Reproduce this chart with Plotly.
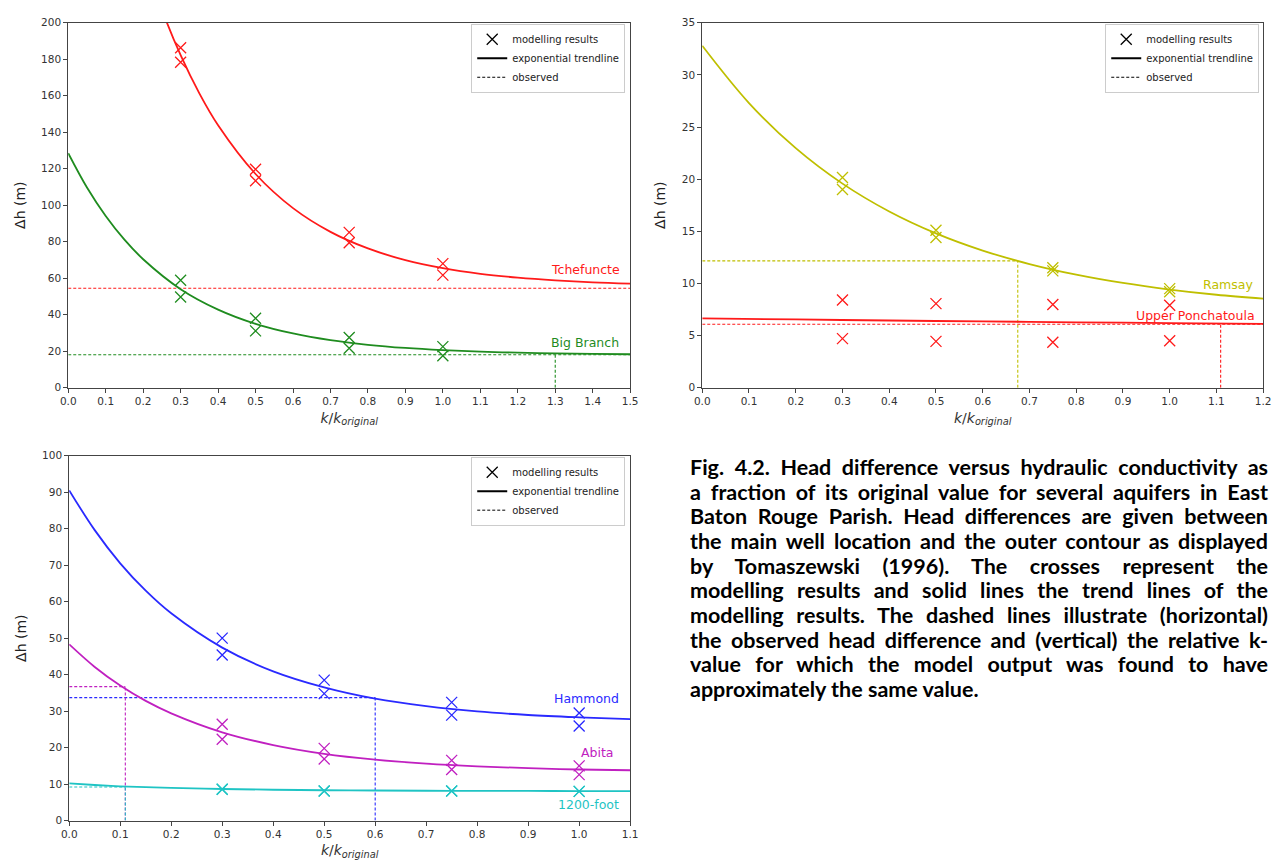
import json
import plotly.graph_objects as go

W, H = 1286, 868

# ---------------- data ----------------
# Panel 1: Tchefuncte / Big Branch
k_pts = [0.3, 0.3, 0.5, 0.5, 0.75, 0.75, 1.0, 1.0]
tche_pts = [186.3, 178.4, 119.7, 113.4, 85.1, 79.4, 68.0, 61.7]
bigb_pts = [58.9, 49.7, 38.0, 31.1, 27.5, 21.6, 22.5, 17.5]
tche_trend_k = [0.2, 0.25, 0.3, 0.35, 0.4, 0.5, 0.6, 0.7, 0.8, 0.9, 1.0, 1.1, 1.2, 1.3, 1.4, 1.5]
tche_trend = [237.2, 207.2, 182.2, 161.3, 143.8, 117.1, 98.4, 85.4, 76.3, 69.9, 65.5, 62.4, 60.3, 58.8, 57.7, 57.0]
bigb_trend_k = [0.0, 0.05, 0.1, 0.15, 0.2, 0.3, 0.4, 0.5, 0.6, 0.7, 0.8, 0.9, 1.0, 1.1, 1.2, 1.3, 1.4, 1.5]
bigb_trend = [128.5, 109.7, 94.1, 81.1, 70.4, 54.0, 42.8, 35.0, 29.7, 26.0, 23.5, 21.75, 20.55, 19.73, 19.16, 18.77, 18.5, 18.3]
tche_obs = 54.5
bigb_obs = 18.0
bigb_k_match = 1.3

# Panel 2: Ramsay / Upper Ponchatoula
rams_pts = [20.16, 19.0, 15.1, 14.4, 11.5, 11.2, 9.5, 9.2]
upon_pts = [8.4, 4.7, 8.06, 4.44, 7.97, 4.35, 7.9, 4.5]
rams_trend_k = [0.0, 0.1, 0.2, 0.3, 0.4, 0.5, 0.6, 0.7, 0.8, 0.9, 1.0, 1.1, 1.2]
rams_trend = [32.8, 27.3, 22.97, 19.57, 16.9, 14.8, 13.15, 11.86, 10.84, 10.04, 9.41, 8.91, 8.53]
upon_trend_k = [0.0, 0.2, 0.4, 0.6, 0.8, 1.0, 1.2]
upon_trend = [6.65, 6.54, 6.44, 6.35, 6.27, 6.19, 6.11]
rams_obs = 12.16
rams_k_match = 0.675
upon_obs = 6.08
upon_k_match = 1.109

# Panel 3: Hammond / Abita / 1200-foot
hamm_pts = [50.0, 45.4, 38.5, 34.8, 32.4, 28.9, 29.5, 25.9]
abit_pts = [26.4, 22.3, 19.8, 16.9, 16.5, 14.0, 15.0, 12.6]
f1200_pts = [8.6, 8.6, 8.1, 8.1, 8.1, 8.1, 8.0, 8.0]
trend3_k = [0.0, 0.05, 0.1, 0.15, 0.2, 0.3, 0.4, 0.5, 0.6, 0.7, 0.8, 0.9, 1.0, 1.1]
hamm_trend = [90.5, 79.6, 70.5, 63.0, 56.8, 47.4, 40.9, 36.5, 33.4, 31.35, 29.9, 28.94, 28.3, 27.8]
abit_trend = [48.3, 42.1, 37.0, 32.8, 29.4, 24.2, 20.7, 18.3, 16.7, 15.6, 14.86, 14.36, 14.0, 13.8]
f1200_trend = [10.2, 9.75, 9.4, 9.15, 8.95, 8.65, 8.45, 8.32, 8.24, 8.18, 8.14, 8.12, 8.1, 8.09]
hamm_obs = 33.7
hamm_k_match = 0.6
abit_obs = 36.7
abit_k_match = 0.11
f1200_obs = 9.2
f1200_k_match = 0.11

legend_labels = ["modelling results", "exponential trendline", "observed"]

caption_lines = [
    "Fig. 4.2. Head difference versus hydraulic conductivity as",
    "a fraction of its original value for several aquifers in East",
    "Baton Rouge Parish. Head differences are given between",
    "the main well location and the outer contour as displayed",
    "by Tomaszewski (1996). The crosses represent the",
    "modelling results and solid lines the trend lines of the",
    "modelling results. The dashed lines illustrate (horizontal)",
    "the observed head difference and (vertical) the relative k-",
    "value for which the model output was found to have",
    "approximately the same value.",
]

# ---------------- styling ----------------
RED = "#ff1a1a"
GREEN = "#1f8c1f"
YEL = "#bfbf00"
BLUE = "#2a2aff"
MAG = "#c020c0"
CYAN = "#1fc4c4"
FONT = "DejaVu Sans"

fig = go.Figure()


def add_series(xa, ya, kx, ky, tx, ty, color):
    fig.add_trace(go.Scatter(x=kx, y=ky, mode="markers", xaxis=xa, yaxis=ya,
                             marker=dict(symbol="x-thin", size=11, line=dict(color=color, width=1.3)),
                             showlegend=False, hoverinfo="skip"))
    fig.add_trace(go.Scatter(x=tx, y=ty, mode="lines", xaxis=xa, yaxis=ya,
                             line=dict(color=color, width=1.8, shape="spline", smoothing=1.0),
                             showlegend=False, hoverinfo="skip"))


def add_obs(xa, ya, x0, x1, yv, color, kmatch=None):
    fig.add_trace(go.Scatter(x=[x0, x1], y=[yv, yv], mode="lines", xaxis=xa, yaxis=ya,
                             line=dict(color=color, width=1.1, dash="3px,2px"),
                             showlegend=False, hoverinfo="skip"))
    if kmatch is not None:
        fig.add_trace(go.Scatter(x=[kmatch, kmatch], y=[0, yv], mode="lines", xaxis=xa, yaxis=ya,
                                 line=dict(color=color, width=1.1, dash="3px,2px"),
                                 showlegend=False, hoverinfo="skip"))


# panel 1
add_obs("x", "y", 0, 1.5, tche_obs, RED)
add_obs("x", "y", 0, 1.5, bigb_obs, GREEN, bigb_k_match)
add_series("x", "y", k_pts, tche_pts, tche_trend_k, tche_trend, RED)
add_series("x", "y", k_pts, bigb_pts, bigb_trend_k, bigb_trend, GREEN)

# panel 2
add_obs("x2", "y2", 0, rams_k_match, rams_obs, YEL, rams_k_match)
add_obs("x2", "y2", 0, 1.2, upon_obs, RED, upon_k_match)
add_series("x2", "y2", k_pts, rams_pts, rams_trend_k, rams_trend, YEL)
add_series("x2", "y2", k_pts, upon_pts, upon_trend_k, upon_trend, RED)

# panel 3
add_obs("x3", "y3", 0, hamm_k_match, hamm_obs, BLUE, hamm_k_match)
add_obs("x3", "y3", 0, abit_k_match, abit_obs, MAG, abit_k_match)
add_obs("x3", "y3", 0, f1200_k_match, f1200_obs, CYAN, f1200_k_match)
add_series("x3", "y3", k_pts, hamm_pts, trend3_k, hamm_trend, BLUE)
add_series("x3", "y3", k_pts, abit_pts, trend3_k, abit_trend, MAG)
add_series("x3", "y3", k_pts, f1200_pts, trend3_k, f1200_trend, CYAN)

# legend dummies
for lg, xa, ya in [("legend", "x", "y"), ("legend2", "x2", "y2"), ("legend3", "x3", "y3")]:
    fig.add_trace(go.Scatter(x=[None], y=[None], mode="markers", xaxis=xa, yaxis=ya, legend=lg,
                             name=legend_labels[0],
                             marker=dict(symbol="x-thin", size=11, line=dict(color="black", width=1.3))))
    fig.add_trace(go.Scatter(x=[None], y=[None], mode="lines", xaxis=xa, yaxis=ya, legend=lg,
                             name=legend_labels[1], line=dict(color="black", width=2)))
    fig.add_trace(go.Scatter(x=[None], y=[None], mode="lines", xaxis=xa, yaxis=ya, legend=lg,
                             name=legend_labels[2], line=dict(color="black", width=1, dash="3px,2px")))


def px_x(p):
    return p / W


def px_y(p):
    return 1 - p / H


axis_common = dict(showline=True, mirror=True, linecolor="#444", linewidth=1,
                   ticks="outside", ticklen=4, tickcolor="#444", tickwidth=1,
                   showgrid=False, zeroline=False,
                   tickfont=dict(family=FONT, size=10.5, color="#333"))
xtitle = dict(text="<i>k</i>/<i>k</i><sub><i>original</i></sub>",
              font=dict(family=FONT, size=14, color="#333"), standoff=6)
ytitle = dict(text="Δh (m)", font=dict(family=FONT, size=14, color="#222"), standoff=12)

fig.update_layout(
    width=W, height=H, autosize=False,
    margin=dict(l=0, r=0, t=0, b=0),
    paper_bgcolor="white", plot_bgcolor="white",
    xaxis=dict(domain=[px_x(61), px_x(630)], range=[0, 1.5], dtick=0.1, tick0=0, tickformat=".1f",
               anchor="y", title=xtitle, **axis_common),
    yaxis=dict(domain=[px_y(387), px_y(17)], range=[0, 200], dtick=20, anchor="x",
               title=ytitle, **axis_common),
    xaxis2=dict(domain=[px_x(703), px_x(1271)], range=[0, 1.2], dtick=0.1, tick0=0, tickformat=".1f",
                anchor="y2", title=xtitle, **axis_common),
    yaxis2=dict(domain=[px_y(387), px_y(17)], range=[0, 35], dtick=5, anchor="x2",
                title=ytitle, **axis_common),
    xaxis3=dict(domain=[px_x(62), px_x(630)], range=[0, 1.1], dtick=0.1, tick0=0, tickformat=".1f",
                anchor="y3", title=xtitle, **axis_common),
    yaxis3=dict(domain=[px_y(826), px_y(456)], range=[0, 100], dtick=10, anchor="x3",
                title=ytitle, **axis_common),
)

leg_common = dict(xanchor="right", yanchor="top", bgcolor="white", bordercolor="#cccccc",
                  borderwidth=1, font=dict(family=FONT, size=10, color="#222"),
                  itemwidth=30, tracegroupgap=0, xref="paper", yref="paper")
fig.update_layout(
    legend=dict(x=px_x(625), y=px_y(18), **leg_common),
    legend2=dict(x=px_x(1267), y=px_y(18), **leg_common),
    legend3=dict(x=px_x(625), y=px_y(457), **leg_common),
)

# curve labels
labels = [
    ("x", "y", 1.478, 64.8, "Tchefuncte", RED),
    ("x", "y", 1.475, 24.8, "Big Branch", GREEN),
    ("x2", "y2", 1.183, 9.92, "Ramsay", YEL),
    ("x2", "y2", 1.186, 6.96, "Upper Ponchatoula", RED),
    ("x3", "y3", 1.083, 33.4, "Hammond", BLUE),
    ("x3", "y3", 1.073, 18.6, "Abita", MAG),
    ("x3", "y3", 1.083, 4.5, "1200-foot", CYAN),
]
for xa, ya, xv, yv, txt, col in labels:
    fig.add_annotation(x=xv, y=yv, xref=xa, yref=ya, text=txt, showarrow=False,
                       xanchor="right", yanchor="middle",
                       font=dict(family=FONT, size=12.5, color=col))

# caption
cap_top = 467
cap_step = 25.0
for i, line in enumerate(caption_lines):
    fig.add_annotation(x=px_x(690), y=px_y(cap_top + i * cap_step), xref="paper", yref="paper",
                       text=line, showarrow=False, xanchor="left", yanchor="middle", align="left",
                       width=582, height=25, borderpad=0,
                       font=dict(family="Lato", size=21.5, color="#000", weight="bold"))

justify_lines = json.dumps(caption_lines[:-1])
post = """
document.body.style.margin='0';
(function(){
  var lines = %s;
  var RIGHT = 1268;
  function justify(){
    var texts = document.querySelectorAll('text.annotation-text');
    texts.forEach(function(t){
      if (lines.indexOf(t.textContent) < 0) return;
      t.style.wordSpacing = '0px';
      var r = t.getBoundingClientRect();
      var n = (t.textContent.match(/ /g) || []).length;
      if (n === 0) return;
      var extra = (RIGHT - r.right) / n;
      t.style.wordSpacing = extra + 'px';
    });
  }
  justify();
  setTimeout(justify, 300);
})();
""" % justify_lines

fig.write_html("out.html", post_script=post, config={"displayModeBar": False})
